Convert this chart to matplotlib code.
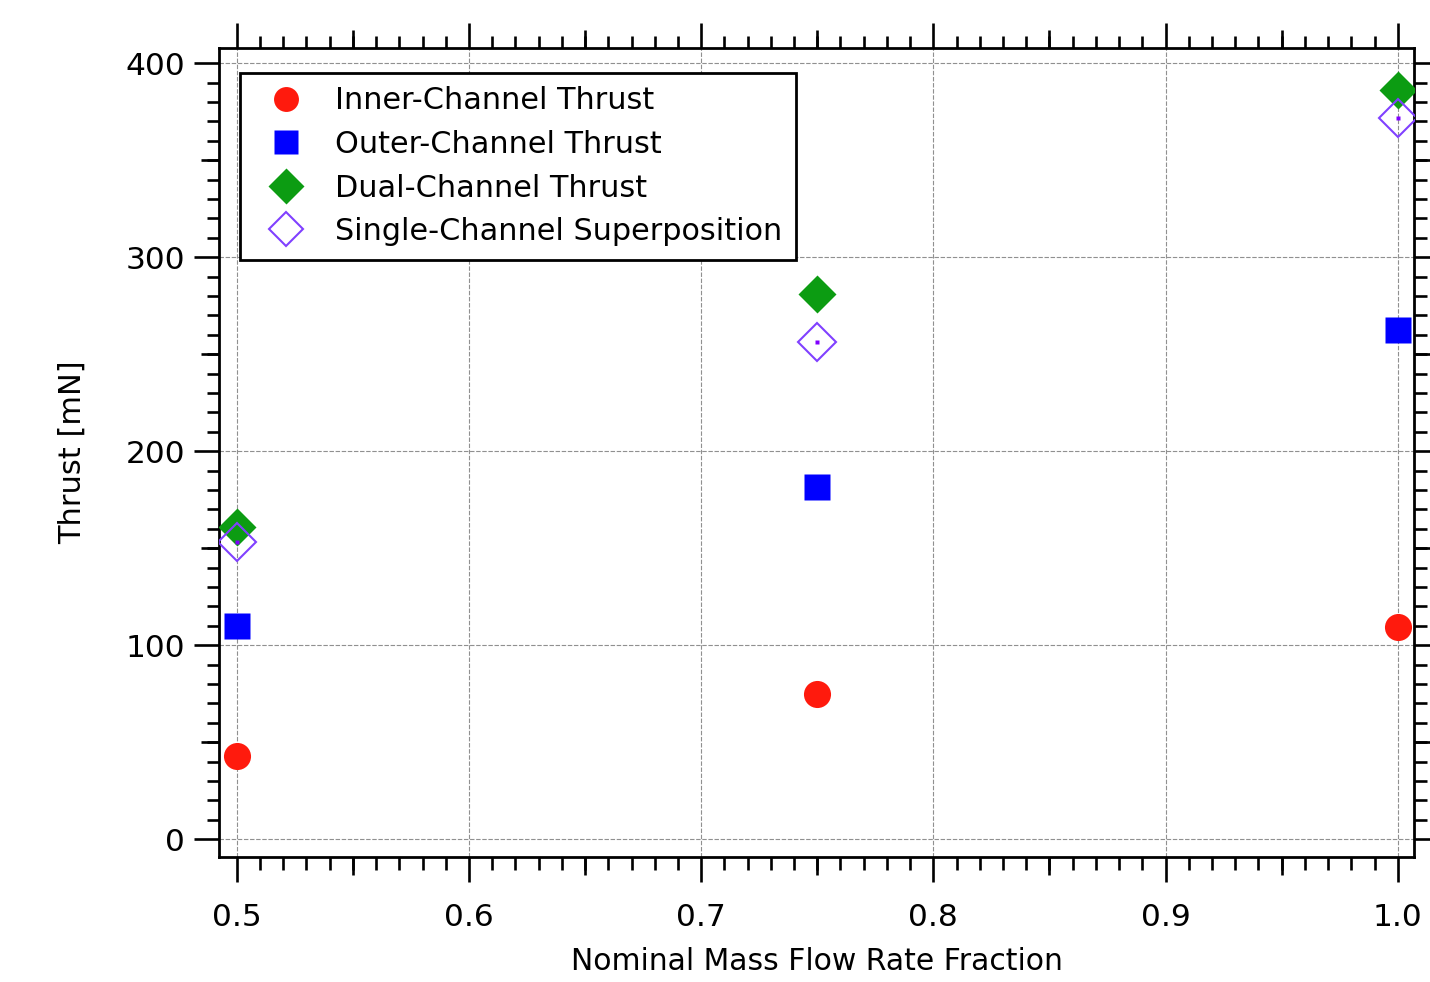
import numpy as np
import matplotlib
matplotlib.use('Agg')
import matplotlib.pyplot as plt
from matplotlib.ticker import MultipleLocator

# mass flow fraction and thrust values [mN]
flow_frac = [0.5, 0.75, 1.0]
inner_thrust = [42.9, 74.9, 109.5]
outer_thrust = [109.9, 181.6, 262.5]
dual_thrust = [161.1, 281.1, 386.2]
superpos_thrust = [153.4, 256.5, 371.6]

x_ticks = [0.5, 0.6, 0.7, 0.8, 0.9, 1.0]
x_ticklabels = ['0.5', '0.6', '0.7', '0.8', '0.9', '1.0']
y_ticks = [0, 100, 200, 300, 400]

plt.rcParams['font.family'] = ['DejaVu Sans']

fig = plt.figure(figsize=(14.3, 9.82), dpi=100)
ax = fig.add_axes([0.1534, 0.1276, 0.8354, 0.8232])

xlim = (0.4925, 1.0070)
ylim = (-9.0, 407.7)

ax.plot(flow_frac, inner_thrust, 'o', color='#ff1a0d', ms=19.5, mec='none', label='Inner-Channel Thrust', zorder=3)
ax.plot(flow_frac, outer_thrust, 's', color='#0000ff', ms=19, mec='none', label='Outer-Channel Thrust', zorder=3)
ax.plot(flow_frac, dual_thrust, 'D', color='#0c9c12', ms=19.5, mec='none', label='Dual-Channel Thrust', zorder=3)
ax.plot(flow_frac, superpos_thrust, 'D', mfc='none', mec='#8040ff', mew=1.5, ms=19, label='Single-Channel Superposition', zorder=4)
ax.plot(flow_frac, superpos_thrust, 's', color='#8000ff', ms=2.5, mec='none', zorder=5)

ax.set_xlim(*xlim)
ax.set_ylim(*ylim)
ax.set_xticks(x_ticks)
ax.set_xticklabels(x_ticklabels)
ax.set_yticks(y_ticks)
ax.xaxis.set_minor_locator(MultipleLocator(0.01))
ax.yaxis.set_minor_locator(MultipleLocator(10))

ax.grid(True, which='major', color='#909090', linestyle=(0, (4, 1.5)), linewidth=0.8)
ax.tick_params(which='both', direction='out', top=True, right=True, width=1.9, colors='black')
ax.tick_params(which='major', length=18, labelsize=22.5, pad=6.5)
ax.tick_params(axis='x', which='major', pad=15)
ax.tick_params(which='minor', length=9)
for s in ax.spines.values():
    s.set_linewidth(2)

# medium ticks every 0.05 / 50 on an overlay axes
ax2 = fig.add_axes(ax.get_position(), frameon=False)
ax2.set_xlim(*xlim)
ax2.set_ylim(*ylim)
ax2.set_xticks(np.arange(0.55, 1.0, 0.1))
ax2.set_yticks(np.arange(50, 400, 100))
ax2.tick_params(direction='out', length=13, width=1.9, top=True, right=True,
                labelbottom=False, labelleft=False)
ax2.patch.set_visible(False)

ax.set_xlabel('Nominal Mass Flow Rate Fraction', fontsize=21.5, labelpad=11)
ax.set_ylabel('Thrust [mN]', fontsize=22, labelpad=28)

leg = ax.legend(loc='upper left', bbox_to_anchor=(0.0176, 0.970), borderaxespad=0,
                fontsize=21.8, frameon=True, fancybox=False, edgecolor='black',
                framealpha=1, handletextpad=0.58, labelspacing=0.48, markerscale=0.92,
                borderpad=0.46, handlelength=2.08)
leg.get_frame().set_linewidth(2)

fig.savefig('out.png', dpi=100)
